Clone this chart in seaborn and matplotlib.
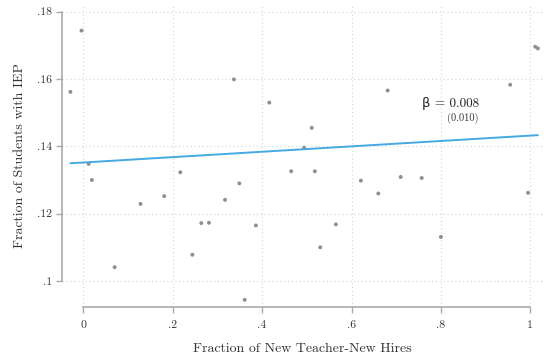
import numpy as np
import pandas as pd
import matplotlib
matplotlib.use("Agg")
import matplotlib.pyplot as plt
import seaborn as sns

# Binned school-level data
new_hire_share = [-0.029, -0.004, 0.012, 0.019, 0.070, 0.128, 0.181, 0.217, 0.244,
                  0.264, 0.281, 0.317, 0.337, 0.349, 0.361, 0.386, 0.416, 0.465,
                  0.494, 0.511, 0.518, 0.530, 0.565, 0.621, 0.660, 0.681, 0.710,
                  0.757, 0.800, 0.955, 0.995, 1.011, 1.017]
iep_share = [0.1562, 0.1744, 0.1348, 0.1300, 0.1041, 0.1229, 0.1252, 0.1323, 0.1078,
             0.1172, 0.1173, 0.1241, 0.1599, 0.1290, 0.0944, 0.1165, 0.1530, 0.1326,
             0.1396, 0.1455, 0.1326, 0.1100, 0.1168, 0.1298, 0.1260, 0.1566, 0.1309,
             0.1306, 0.1131, 0.1583, 0.1262, 0.1696, 0.1691]

# Fitted regression line
beta = 0.008
beta_se = 0.010
intercept = 0.1352

x_ticks = [0, 0.2, 0.4, 0.6, 0.8, 1.0]
x_tick_labels = ["0", ".2", ".4", ".6", ".8", "1"]
y_ticks = [0.10, 0.12, 0.14, 0.16, 0.18]
y_tick_labels = [".1", ".12", ".14", ".16", ".18"]

sns.set_style("white")
plt.rcParams["font.family"] = ["cmr10", "DejaVu Sans"]
plt.rcParams["axes.unicode_minus"] = False

df = pd.DataFrame({"x": new_hire_share, "y": iep_share})
x_fit = np.array([min(new_hire_share), max(new_hire_share)])
fit = pd.DataFrame({"x": x_fit, "y": intercept + beta * x_fit})

fig = plt.figure(figsize=(5.44, 3.56), dpi=100)
ax = fig.add_axes([62 / 544, 1 - 307 / 356, (543 - 62) / 544, (307 - 4) / 356])

grid_kw = dict(color="#d4d4d4", lw=0.8, ls=(0, (1, 2.5)), zorder=0)
for xt in x_ticks:
    ax.axvline(xt, **grid_kw)
for yt in y_ticks:
    ax.axhline(yt, **grid_kw)

sns.scatterplot(data=df, x="x", y="y", ax=ax, color="#8f8f8f", s=8,
                edgecolor="none", zorder=3)
sns.lineplot(data=fit, x="x", y="y", ax=ax, color="#45a9e3", lw=1.4, zorder=4)

ax.set_xlim(-0.0477, 1.0284)
ax.set_ylim(0.09227, 0.1823)

ax.set_xticks(x_ticks)
ax.set_xticklabels(x_tick_labels)
ax.set_yticks(y_ticks)
ax.set_yticklabels(y_tick_labels)

for side in ["top", "right"]:
    ax.spines[side].set_visible(False)
for side in ["left", "bottom"]:
    ax.spines[side].set_color("#aaaaaa")
    ax.spines[side].set_linewidth(1.2)
ax.spines["left"].set_bounds(0.10, 0.18)
ax.spines["bottom"].set_bounds(0.0, 1.0)

ax.tick_params(axis="both", which="major", direction="out", length=4, width=1.0,
               color="#aaaaaa", labelsize=8.5, labelcolor="#333333",
               bottom=True, left=True, top=False, right=False)
ax.tick_params(axis="x", pad=6)
ax.tick_params(axis="y", pad=3)

ax.set_xlabel("Fraction of New Teacher-New Hires", fontsize=10, color="#333333",
              labelpad=9)
ax.set_ylabel("Fraction of Students with IEP", fontsize=10, color="#333333",
              labelpad=8)

ax.text(0.822, 0.1526, f"β = {beta:.3f}", fontsize=9.5, ha="center", va="center",
        color="#222222")
ax.text(0.849, 0.1484, f"({beta_se:.3f})", fontsize=7.5, ha="center", va="center",
        color="#333333")

fig.savefig("out.png", dpi=100)
